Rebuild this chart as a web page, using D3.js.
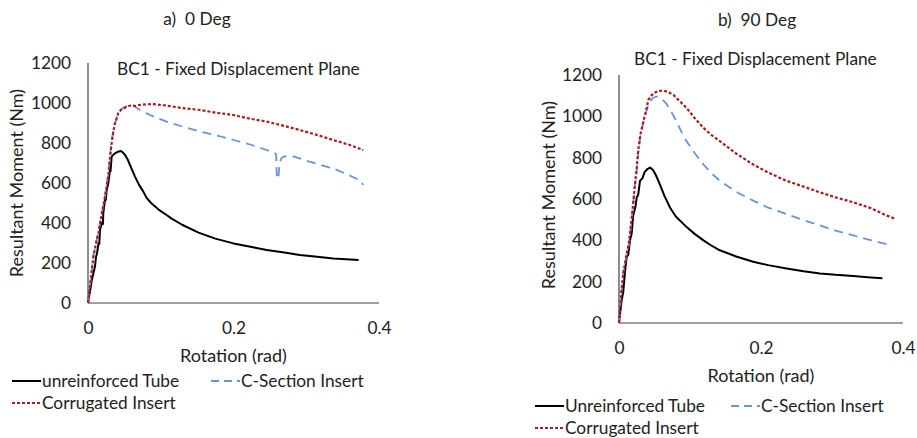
<!DOCTYPE html>
<html>
<head>
<meta charset="utf-8">
<script src="https://cdn.jsdelivr.net/npm/d3@7"></script>
<style>
  html, body { margin: 0; padding: 0; background: #fff; }
  svg { display: block; }
  text { font-family: Lato, "Open Sans", sans-serif; fill: #222; }
</style>
</head>
<body>
<svg id="chart" width="917" height="438"></svg>
<script>
// ---------------- DATA ----------------
const xTicks = [0, 0.2, 0.4];
const yTicks = [0, 200, 400, 600, 800, 1000, 1200];
const panelTitles = ["a)  0 Deg", "b)  90 Deg"];
const plotTitle = "BC1 - Fixed Displacement Plane";
const xAxisTitle = "Rotation (rad)";
const yAxisTitle = "Resultant Moment (Nm)";
const legendNamesA = ["unreinforced Tube", "C-Section Insert", "Corrugated Insert"];
const legendNamesB = ["Unreinforced Tube", "C-Section Insert", "Corrugated Insert"];

// Panel a) 0 Deg  [rotation (rad), moment (Nm)]
const aUnreinforced = [[0,0],[0.003,65],[0.005,110],[0.0075,150],[0.0096,182],[0.011,230],[0.0125,250],[0.0145,300],[0.0155,295],[0.0165,365],[0.019,400],[0.0205,395],[0.021,448],[0.0235,520],[0.0245,515],[0.0257,565],[0.028,600],[0.0302,665],[0.031,660],[0.0325,732],[0.035,742],[0.037,748],[0.041,756],[0.0454,760],[0.048,752],[0.051,740],[0.0545,718],[0.0577,690],[0.0646,632],[0.07,592],[0.076,557],[0.0807,525],[0.0875,497],[0.097,467],[0.108,440],[0.115,422],[0.13,390],[0.152,352],[0.175,322],[0.2,298],[0.225,280],[0.2456,265],[0.27,252],[0.291,240],[0.315,231],[0.337,223],[0.355,219],[0.372,215]];
const aCSection = [[0,0],[0.003,95],[0.0073,235],[0.012,318],[0.0145,360],[0.0165,400],[0.02,470],[0.0234,532],[0.026,600],[0.028,645],[0.0305,740],[0.0325,815],[0.035,860],[0.037,898],[0.0405,935],[0.044,962],[0.048,975],[0.053,985],[0.0577,990],[0.063,985],[0.07,968],[0.077,955],[0.085,940],[0.097,922],[0.108,907],[0.13,882],[0.154,857],[0.18,835],[0.2,815],[0.225,790],[0.2456,765],[0.255,752],[0.2585,745],[0.259,690],[0.2595,630],[0.2605,620],[0.262,640],[0.2635,700],[0.266,725],[0.27,733],[0.282,733],[0.3,712],[0.32,690],[0.337,673],[0.355,645],[0.37,620],[0.376,607],[0.378,590]];
const aCorrugated = [[0,0],[0.003,90],[0.0073,230],[0.012,315],[0.0145,350],[0.0165,398],[0.02,465],[0.0234,532],[0.028,640],[0.03,720],[0.0325,800],[0.035,860],[0.037,898],[0.0417,950],[0.046,968],[0.05,975],[0.0554,985],[0.06,988],[0.065,985],[0.07,990],[0.0754,992],[0.0875,995],[0.1,990],[0.108,987],[0.12,980],[0.133,973],[0.154,965],[0.175,952],[0.2,940],[0.222,922],[0.2456,907],[0.27,885],[0.291,865],[0.315,840],[0.337,815],[0.36,790],[0.3785,765]];

// Panel b) 90 Deg
const bUnreinforced = [[0,0],[0.002,60],[0.0038,112],[0.006,150],[0.0085,250],[0.0108,320],[0.013,330],[0.0155,400],[0.0178,432],[0.02,520],[0.023,560],[0.025,608],[0.027,620],[0.0296,688],[0.033,700],[0.036,730],[0.04,745],[0.0437,752],[0.048,740],[0.052,715],[0.0577,670],[0.064,615],[0.0718,559],[0.08,515],[0.0953,464],[0.107,430],[0.119,400],[0.13,375],[0.142,352],[0.165,322],[0.189,296],[0.21,280],[0.236,264],[0.26,250],[0.283,240],[0.305,233],[0.33,227],[0.35,221],[0.371,216]];
const bCSection = [[0,0],[0.003,140],[0.006,240],[0.0108,334],[0.014,380],[0.018,500],[0.0225,671],[0.025,740],[0.027,820],[0.03,900],[0.0343,970],[0.039,1030],[0.0437,1072],[0.048,1090],[0.053,1096],[0.058,1090],[0.062,1078],[0.067,1060],[0.074,1020],[0.081,976],[0.088,925],[0.095,880],[0.107,820],[0.119,767],[0.13,725],[0.142,688],[0.165,635],[0.189,592],[0.21,558],[0.236,527],[0.26,498],[0.283,472],[0.305,447],[0.33,424],[0.35,405],[0.377,381]];
const bCorrugated = [[0,0],[0.003,140],[0.006,240],[0.0108,334],[0.014,390],[0.018,510],[0.0225,671],[0.025,750],[0.027,832],[0.03,910],[0.0343,976],[0.039,1040],[0.0413,1080],[0.0483,1112],[0.055,1122],[0.0624,1125],[0.069,1118],[0.0765,1104],[0.085,1075],[0.0953,1040],[0.107,990],[0.119,944],[0.13,910],[0.142,880],[0.165,820],[0.189,767],[0.21,728],[0.236,688],[0.26,660],[0.283,632],[0.305,608],[0.33,584],[0.355,555],[0.377,520],[0.389,504]];

// ---------------- STYLE / LAYOUT ----------------
const seriesStyles = [
  { color: "#000000", width: 2.0, dash: null },
  { color: "#6b93d6", width: 1.8, dash: "9,6" },
  { color: "#a81e1e", width: 2.2, dash: "3,2" }
];
const FS = 17.3;
const FT = 18;

const svg = d3.select("#chart");

function drawPanel(p) {
  const g = svg.append("g");
  const x = d3.scaleLinear().domain([0, 0.4]).range([p.x0, p.x1]);
  const y = d3.scaleLinear().domain([0, 1200]).range([p.y0, p.y1]);

  g.append("text").attr("x", p.titleX).attr("y", p.titleY)
    .attr("text-anchor", "middle").style("font-size", FS + "px")
    .style("white-space", "pre").text(p.title);
  g.append("text").attr("x", p.subX).attr("y", p.subY)
    .attr("text-anchor", "start").style("font-size", FS + "px").text(plotTitle);

  const yAxis = d3.axisLeft(y).tickValues(yTicks).tickSize(0).tickPadding(0)
    .tickFormat(d3.format("d"));
  const ya = g.append("g").attr("transform", `translate(${p.yLabelX},0)`).call(yAxis);
  ya.select(".domain").remove();
  ya.selectAll("text").style("font-size", FS + "px").style("font-family", "Lato, sans-serif").attr("fill", "#222");
  g.append("line").attr("x1", p.x0).attr("x2", p.x0).attr("y1", p.y0).attr("y2", p.y1)
    .attr("stroke", "#404040").attr("stroke-width", 1.2);

  const xAxis = d3.axisBottom(x).tickValues(xTicks).tickSize(0).tickPadding(0)
    .tickFormat(d => d === 0 ? "0" : d3.format(".1f")(d));
  const xa = g.append("g").attr("transform", `translate(0,${p.xLabelY})`).call(xAxis);
  xa.select(".domain").remove();
  xa.selectAll("text").style("font-size", FS + "px").style("font-family", "Lato, sans-serif").attr("fill", "#222");
  g.append("line").attr("x1", p.x0).attr("x2", p.x1).attr("y1", p.y0).attr("y2", p.y0)
    .attr("stroke", "#404040").attr("stroke-width", 1.2);

  g.append("text").attr("x", (p.x0 + p.x1) / 2).attr("y", p.xTitleY)
    .attr("text-anchor", "middle").style("font-size", FT + "px").text(xAxisTitle);
  g.append("text").attr("transform", `translate(${p.yTitleX},${p.yTitleCY}) rotate(-90)`)
    .attr("text-anchor", "middle").style("font-size", FT + "px").text(yAxisTitle);

  const line = d3.line().x(d => x(d[0])).y(d => y(d[1]));
  p.series.forEach((s, i) => {
    const st = seriesStyles[i];
    g.append("path").datum(s).attr("d", line).attr("fill", "none")
      .attr("stroke", st.color).attr("stroke-width", st.width)
      .attr("stroke-dasharray", st.dash).attr("stroke-linejoin", "round");
  });

  p.legend.forEach((it, i) => {
    const st = seriesStyles[i];
    g.append("line").attr("x1", it.lx).attr("x2", it.lx + 29).attr("y1", it.ly).attr("y2", it.ly)
      .attr("stroke", st.color).attr("stroke-width", st.width)
      .attr("stroke-dasharray", i === 1 ? "8,5" : st.dash);
    g.append("text").attr("x", it.lx + 30).attr("y", it.ly).attr("dy", "0.35em")
      .style("font-size", FS + "px").text(p.names[i]);
  });
}

drawPanel({
  title: panelTitles[0], titleX: 197, titleY: 25,
  subX: 117, subY: 75,
  x0: 88, x1: 379, y0: 303, y1: 63,
  yLabelX: 71, xLabelY: 322, xTitleY: 362,
  yTitleX: 23, yTitleCY: 183,
  series: [aUnreinforced, aCSection, aCorrugated],
  names: legendNamesA,
  legend: [{lx: 12, ly: 381}, {lx: 211, ly: 381}, {lx: 12, ly: 403}]
});

drawPanel({
  title: panelTitles[1], titleX: 757, titleY: 26,
  subX: 634, subY: 65,
  x0: 619, x1: 903, y0: 323, y1: 75,
  yLabelX: 602, xLabelY: 342, xTitleY: 382,
  yTitleX: 555, yTitleCY: 195,
  series: [bUnreinforced, bCSection, bCorrugated],
  names: legendNamesB,
  legend: [{lx: 535, ly: 406}, {lx: 731, ly: 406}, {lx: 535, ly: 428}]
});
</script>
</body>
</html>
